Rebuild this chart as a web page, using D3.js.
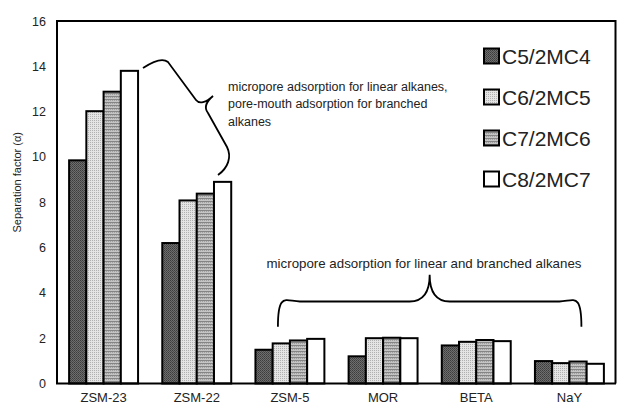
<!DOCTYPE html>
<html><head><meta charset="utf-8">
<script src="https://cdn.jsdelivr.net/npm/d3@7"></script>
<style>
html,body{margin:0;padding:0;background:#fff;}
svg{display:block;font-family:"Liberation Sans",Arial,sans-serif;}
</style></head>
<body><svg id="c" width="618" height="407"></svg>
<script>
const categories = ["ZSM-23","ZSM-22","ZSM-5","MOR","BETA","NaY"];
const seriesNames = ["C5/2MC4","C6/2MC5","C7/2MC6","C8/2MC7"];
const c5 = [9.85, 6.2, 1.49, 1.2, 1.68, 0.99];
const c6 = [12.02, 8.08, 1.77, 2.0, 1.84, 0.9];
const c7 = [12.88, 8.38, 1.9, 2.02, 1.92, 0.97];
const c8 = [13.8, 8.9, 1.97, 2.0, 1.87, 0.87];
const yTicks = [0,2,4,6,8,10,12,14,16];
const seriesValues = [c5, c6, c7, c8];

const svg = d3.select("#c");
const m = {l:57, r:2, t:21, b:23.5};
const W = 618, H = 407;
const x = d3.scaleBand().domain(categories).range([m.l, W - m.r]).paddingInner(0.26).paddingOuter(0.13);
const xs = d3.scaleBand().domain(seriesNames).range([0, x.bandwidth()]);
const y = d3.scaleLinear().domain([0,16]).range([H - m.b, m.t]);

// patterns
const defs = svg.append("defs");
const p1 = defs.append("pattern").attr("id","p0").attr("patternUnits","userSpaceOnUse").attr("width",2).attr("height",2);
p1.append("rect").attr("width",2).attr("height",2).attr("fill","#6e6e6e");
p1.append("rect").attr("width",1).attr("height",1).attr("fill","#3c3c3c");
p1.append("rect").attr("x",1).attr("y",1).attr("width",1).attr("height",1).attr("fill","#4a4a4a");
const p2 = defs.append("pattern").attr("id","p1").attr("patternUnits","userSpaceOnUse").attr("width",2).attr("height",2);
p2.append("rect").attr("width",2).attr("height",2).attr("fill","#e4e4e4");
p2.append("rect").attr("width",1).attr("height",1).attr("fill","#b0b0b0");
const p3 = defs.append("pattern").attr("id","p2").attr("patternUnits","userSpaceOnUse").attr("width",2).attr("height",3);
p3.append("rect").attr("width",2).attr("height",3).attr("fill","#c4c4c4");
p3.append("rect").attr("width",2).attr("height",1).attr("fill","#858585");
p3.append("rect").attr("y",1).attr("width",1).attr("height",1).attr("fill","#a0a0a0");
const fills = ["url(#p0)","url(#p1)","url(#p2)","#ffffff"];

// frame
svg.append("path")
  .attr("d", `M${m.l},${y(0)}V${y(16)}H${W-m.r-0.5}V${y(0)}`)
  .attr("fill","none").attr("stroke","#000").attr("stroke-width",2);

// bars
const g = svg.append("g");
categories.forEach((cat, i) => {
  seriesNames.forEach((s, j) => {
    const v = seriesValues[j][i];
    g.append("rect")
      .attr("x", x(cat) + xs(s))
      .attr("y", y(v))
      .attr("width", xs.bandwidth())
      .attr("height", y(0) - y(v))
      .attr("fill", fills[j])
      .attr("stroke","#000").attr("stroke-width",2);
  });
});

// baseline
svg.append("line").attr("x1",m.l-1).attr("x2",W-m.r).attr("y1",y(0)).attr("y2",y(0))
  .attr("stroke","#000").attr("stroke-width",2);

// y axis labels
const ya = svg.append("g").attr("transform",`translate(${m.l},0)`)
  .call(d3.axisLeft(y).tickValues(yTicks).tickSize(0).tickPadding(11).tickFormat(d3.format("d")));
ya.select(".domain").remove();
ya.selectAll("text").attr("font-size",12.5).attr("fill","#222").attr("font-family","Liberation Sans, Arial, sans-serif");

// x axis labels
const xa = svg.append("g").attr("transform",`translate(0,${y(0)})`)
  .call(d3.axisBottom(x).tickSize(0).tickPadding(9.5));
xa.select(".domain").remove();
xa.selectAll("text").attr("font-size",13).attr("fill","#222").attr("font-family","Liberation Sans, Arial, sans-serif");

// y title
svg.append("text").attr("transform",`translate(21,${(y(0)+y(16))/2 - 20}) rotate(-90)`)
  .attr("text-anchor","middle").attr("font-size",11).attr("fill","#222")
  .text("Separation factor (\u03b1)");

// legend
const lg = svg.append("g");
seriesNames.forEach((s, j) => {
  const cy = 56 + j * 41;
  lg.append("rect").attr("x",484).attr("y",cy-7.5).attr("width",15).attr("height",15)
    .attr("fill",fills[j]).attr("stroke","#000").attr("stroke-width",2);
  lg.append("text").attr("x",502).attr("y",cy+7.5).attr("font-size",21).attr("fill","#222").text(s);
});

// annotation top
const ann1 = ["micropore adsorption for linear alkanes,","pore-mouth adsorption for branched","alkanes"];
ann1.forEach((t,i)=>{
  svg.append("text").attr("x",228).attr("y",91 + i*17.3).attr("font-size",12.5).attr("fill","#222").text(t);
});
svg.append("path")
  .attr("d","M143,68 C152,62 162,57 168,62 L196,100 C199,104 206,103 213,96 C206,102 204,108 208,113 L227,147 C232,157 228,168 218,175")
  .attr("fill","none").attr("stroke","#000").attr("stroke-width",1.8);

// annotation bottom
const bx0 = x("ZSM-5") + x.bandwidth()/2 - 12;
const bx1 = x("NaY") + x.bandwidth()/2 + 12;
const bxm = (x("MOR") + x("BETA") + x.bandwidth())/2;
const yEnd = y(2.5), yArm = y(3.62), yTip = y(4.8);
svg.append("path")
  .attr("d",`M${bx0},${yEnd} C${bx0},${yArm-10} ${bx0+8},${yArm} ${bx0+22},${yArm} L${bxm-20},${yArm} C${bxm-6},${yArm} ${bxm},${yArm-10} ${bxm},${yTip} C${bxm},${yArm-10} ${bxm+6},${yArm} ${bxm+20},${yArm} L${bx1-22},${yArm} C${bx1-8},${yArm} ${bx1},${yArm-10} ${bx1},${yEnd}`)
  .attr("fill","none").attr("stroke","#000").attr("stroke-width",1.8);
svg.append("text").attr("x",424).attr("y",267.5).attr("text-anchor","middle").attr("font-size",13.3).attr("fill","#222")
  .text("micropore adsorption for linear and branched alkanes");
</script></body></html>
